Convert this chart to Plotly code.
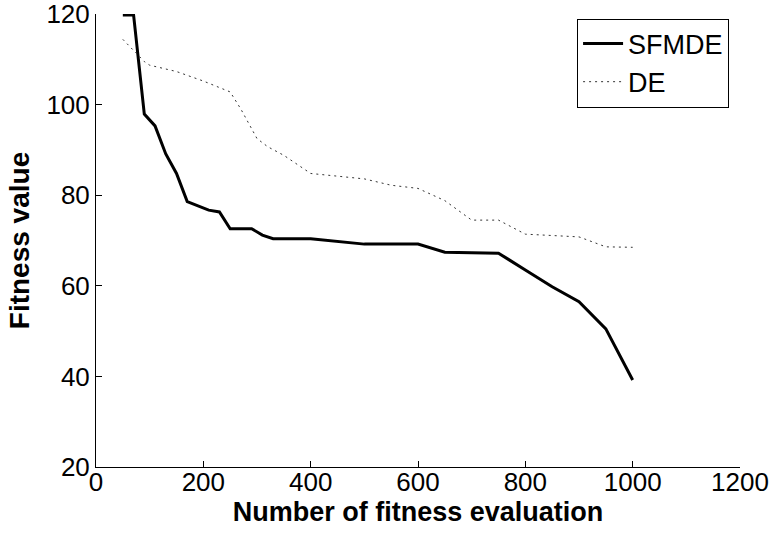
import plotly.graph_objects as go

# Convergence curves: fitness value vs number of fitness evaluations
sfmde_x = [50, 70, 90, 110, 130, 150, 170, 190, 210, 230, 250, 290, 310, 330,
           400, 500, 600, 650, 750, 800, 850, 900, 950, 1000]
sfmde_y = [119.8, 119.8, 97.9, 95.3, 89.1, 84.8, 78.6, 77.7, 76.7, 76.3, 72.6,
           72.6, 71.2, 70.4, 70.4, 69.2, 69.2, 67.4, 67.2, 63.5, 59.8, 56.5,
           50.5, 39.2]

de_x = [50, 70, 90, 100, 150, 200, 250, 270, 300, 320, 350, 400, 450, 500,
        550, 600, 650, 700, 750, 800, 850, 900, 950, 1000]
de_y = [114.4, 112.0, 109.5, 108.7, 107.3, 105.2, 102.8, 99.0, 92.5, 90.7,
        88.8, 84.8, 84.2, 83.6, 82.2, 81.5, 78.8, 74.5, 74.5, 71.4, 71.1,
        70.8, 68.6, 68.5]

x_ticks = [0, 200, 400, 600, 800, 1000, 1200]
y_ticks = [20, 40, 60, 80, 100, 120]

FONT = "Liberation Sans, Arial, sans-serif"

fig = go.Figure()
fig.add_trace(go.Scatter(x=sfmde_x, y=sfmde_y, mode="lines", name="SFMDE",
                         line=dict(color="black", width=3), cliponaxis=False))
fig.add_trace(go.Scatter(x=de_x, y=de_y, mode="lines", name="DE",
                         line=dict(color="#333333", width=1, dash="2px,4px")))

axis_common = dict(showgrid=False, zeroline=False, showline=True,
                   linecolor="black", linewidth=1, ticks="inside", ticklen=6,
                   tickcolor="black", mirror=False, automargin=False,
                   ticklabeloverflow="allow",
                   tickfont=dict(family=FONT, size=26, color="black"))

fig.update_layout(
    width=773, height=537,
    margin=dict(l=96, r=33, t=14, b=70),
    plot_bgcolor="white", paper_bgcolor="white",
    xaxis=dict(range=[0, 1200], tickvals=x_ticks, ticklabelstandoff=-8,
               title=dict(text="<b>Number of fitness evaluation</b>", standoff=0,
                          font=dict(family=FONT, size=27, color="black")),
               **axis_common),
    yaxis=dict(range=[20, 120], tickvals=y_ticks,
               title=dict(text="<b>Fitness value</b>", standoff=8,
                          font=dict(family=FONT, size=28, color="black")),
               **axis_common),
    legend=dict(x=0.747, y=0.99, xanchor="left", yanchor="top",
                bgcolor="white", bordercolor="black", borderwidth=1,
                font=dict(family=FONT, size=27, color="black"),
                tracegroupgap=0, itemwidth=40),
    showlegend=True,
)

fig.write_html("out.html")
